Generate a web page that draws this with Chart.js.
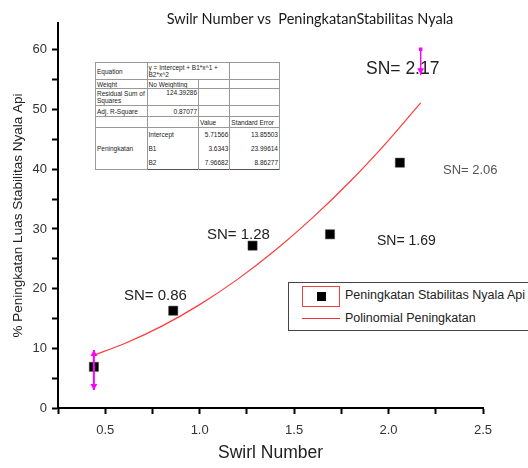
<!DOCTYPE html>
<html>
<head>
<meta charset="utf-8">
<script src="https://cdn.jsdelivr.net/npm/chart.js@4/dist/chart.umd.min.js"></script>
<style>
  html, body { margin: 0; padding: 0; background: #fff; }
  #wrap { position: relative; width: 528px; height: 468px; overflow: hidden; }
  #chart { position: absolute; left: 0; top: 0; }
  table.fit {
    position: absolute; left: 95px; top: 62px; width: 185px; height: 108px;
    border-collapse: collapse; table-layout: fixed; background: #fff;
    font: 6.5px "Liberation Sans", Arial, sans-serif; color: #222; border: 1px solid #555;
  }
  table.fit td { border: 1px solid #999; padding: 0 1px; line-height: 7px; vertical-align: middle; overflow: hidden; }
  table.fit td.r { text-align: right; }
  table.fit tr.g td.nb { border-top: none; border-bottom: none; }
  #legend {
    position: absolute; left: 288px; top: 282px; width: 260px; height: 47px;
    border: 1.5px solid #444; background: #fff;
    font: 12.5px "Liberation Sans", Arial, sans-serif; color: #222;
  }
  #legend .sym { position: absolute; left: 13px; top: 3px; width: 36px; height: 19px; border: 1px solid #f04040; }
  #legend .sq { position: absolute; left: 14px; top: 5px; width: 9px; height: 9px; background: #000; }
  #legend .ln { position: absolute; left: 13px; top: 35px; width: 38px; height: 0; border-top: 1.5px solid #f03030; }
  #legend .t1 { position: absolute; left: 56px; top: 5px; white-space: nowrap; }
  #legend .t2 { position: absolute; left: 56px; top: 28px; white-space: nowrap; }
</style>
</head>
<body>
<div id="wrap">
  <canvas id="chart" width="528" height="468"></canvas>
  <table class="fit">
    <colgroup><col style="width:28%"><col style="width:28%"><col style="width:17%"><col style="width:27%"></colgroup>
    <tr style="height:17px"><td>Equation</td><td colspan="2">y = Intercept + B1*x^1 + B2*x^2</td><td></td></tr>
    <tr style="height:9px"><td>Weight</td><td>No Weighting</td><td></td><td></td></tr>
    <tr style="height:17px"><td>Residual Sum of Squares</td><td class="r" style="vertical-align:top">124.39286</td><td></td><td></td></tr>
    <tr style="height:11px"><td>Adj. R-Square</td><td class="r">0.87077</td><td></td><td></td></tr>
    <tr style="height:10px"><td></td><td></td><td>Value</td><td>Standard Error</td></tr>
    <tr class="g" style="height:14px"><td rowspan="3">Peningkatan</td><td class="nb">Intercept</td><td class="r nb">5.71566</td><td class="r nb">13.85503</td></tr>
    <tr class="g" style="height:14px"><td class="nb">B1</td><td class="r nb">3.6343</td><td class="r nb">23.99614</td></tr>
    <tr class="g" style="height:14px"><td class="nb">B2</td><td class="r nb">7.96682</td><td class="r nb">8.86277</td></tr>
  </table>
  <div id="legend">
    <div class="sym"><div class="sq"></div></div>
    <div class="t1">Peningkatan Stabilitas Nyala Api</div>
    <div class="ln"></div>
    <div class="t2">Polinomial Peningkatan</div>
  </div>
</div>
<script>
// Measured flame-stability increase against swirl number
const swirl = [0.44, 0.86, 1.28, 1.69, 2.06];
const peningkatan = [6.9, 16.3, 27.2, 29.1, 41.1];

// Quadratic fit curve (y = 5.71566 + 3.6343 x + 7.96682 x^2), sampled
const fitSwirl = [0.44, 0.6, 0.8, 1.0, 1.2, 1.4, 1.6, 1.8, 2.0, 2.17];
const fitPeningkatan = [8.86, 10.77, 13.72, 17.32, 21.55, 26.42, 31.93, 38.07, 44.85, 51.12];

// Range markers at both ends of the fit
const markSwirl = [0.44, 2.17];
const markTop = [9.7, 60.1];
const markBottom = [3.0, 55.8];
const markUp = [9.05, 60.1];
const markDown = [3.7, 56.6];

// Axis ticks
const xTickLabels = ['0.5', '1.0', '1.5', '2.0', '2.5'];
const yTickLabels = ['0', '10', '20', '30', '40', '50', '60'];

// Value annotations
const snLabels = ['SN= 0.86', 'SN= 1.28', 'SN= 1.69', 'SN= 2.06', 'SN= 2.17'];

const FONT = '"Liberation Sans", Arial, sans-serif';

const pts = (xs, ys) => xs.map((x, i) => ({ x: x, y: ys[i] }));

const annotations = {
  id: 'annotations',
  afterDraw(chart) {
    const ctx = chart.ctx;
    ctx.save();
    ctx.textBaseline = 'middle';
    ctx.textAlign = 'center';
    ctx.fillStyle = '#1a1a1a';
    ctx.font = '14.5px Lato, "Open Sans", sans-serif';
    ctx.fillText('Swilr Number vs  PeningkatanStabilitas Nyala', 310, 19);

    ctx.textAlign = 'left';
    const spots = [
      { x: 124, y: 296, size: 15, color: '#222' },
      { x: 207, y: 235, size: 15, color: '#222' },
      { x: 377, y: 241, size: 14, color: '#222' },
      { x: 443, y: 170, size: 13, color: '#555' },
      { x: 366, y: 69, size: 17.5, color: '#222' }
    ];
    snLabels.forEach((t, i) => {
      const s = spots[i];
      ctx.font = s.size + 'px ' + FONT;
      ctx.fillStyle = s.color;
      ctx.fillText(t, s.x, s.y);
    });
    ctx.restore();
  }
};

new Chart(document.getElementById('chart'), {
  type: 'scatter',
  data: {
    datasets: [
      {
        data: [{ x: markSwirl[0], y: markTop[0] }, { x: markSwirl[0], y: markBottom[0] }],
        showLine: true, borderColor: '#ff00ff', borderWidth: 2, pointRadius: 0
      },
      {
        data: [{ x: markSwirl[1], y: markTop[1] }, { x: markSwirl[1], y: markBottom[1] }],
        showLine: true, borderColor: '#ff00ff', borderWidth: 1, pointRadius: 0
      },
      {
        data: pts(markSwirl, markUp),
        pointStyle: ['triangle', 'rect'], radius: [4, 2.5], rotation: 0,
        backgroundColor: '#ff00ff', borderColor: '#ff00ff', borderWidth: 0
      },
      {
        data: pts(markSwirl, markDown),
        pointStyle: 'triangle', radius: 4, rotation: 180,
        backgroundColor: '#ff00ff', borderColor: '#ff00ff', borderWidth: 0
      },
      {
        label: 'Peningkatan Stabilitas Nyala Api',
        data: pts(swirl, peningkatan),
        pointStyle: 'rect', radius: 6.5,
        backgroundColor: '#000', borderColor: '#444', borderWidth: 0.5
      },
      {
        label: 'Polinomial Peningkatan',
        data: pts(fitSwirl, fitPeningkatan),
        showLine: true, borderColor: '#ff3b3b', borderWidth: 1.2,
        pointRadius: 0, cubicInterpolationMode: 'monotone'
      }
    ]
  },
  options: {
    responsive: false,
    animation: false,
    events: [],
    layout: { padding: { top: 23, right: 45, left: 0, bottom: 0 } },
    plugins: { legend: { display: false }, tooltip: { enabled: false } },
    scales: {
      x: {
        type: 'linear', min: 0.25, max: 2.5,
        afterFit(s) { s.height = 60; },
        afterBuildTicks(s) {
          s.ticks = [];
          for (let i = 0; i <= 9; i++) s.ticks.push({ value: 0.25 + i * 0.25 });
        },
        border: { display: true, color: '#000', width: 2 },
        grid: { drawOnChartArea: false, drawTicks: true, tickLength: 6, tickColor: '#000', tickWidth: 2 },
        ticks: {
          color: '#333', font: { family: FONT, size: 13 }, padding: 9, maxRotation: 0,
          callback(v) {
            const k = Math.round(v / 0.5) - 1;
            return Math.abs(v / 0.5 - Math.round(v / 0.5)) < 1e-6 && k >= 0 ? xTickLabels[k] : '';
          }
        },
        title: { display: true, text: 'Swirl Number', color: '#222', font: { family: FONT, size: 17.5 }, padding: { top: 4, bottom: 4 } }
      },
      y: {
        type: 'linear', min: 0, max: 64.5,
        afterFit(s) { s.width = 58; },
        afterBuildTicks(s) {
          s.ticks = [];
          for (let i = 0; i <= 12; i++) s.ticks.push({ value: i * 5 });
        },
        border: { display: true, color: '#000', width: 2 },
        grid: { drawOnChartArea: false, drawTicks: true, tickLength: 6, tickColor: '#000', tickWidth: 2 },
        ticks: {
          color: '#333', font: { family: FONT, size: 13 }, padding: 5,
          callback(v) { return v % 10 === 0 ? yTickLabels[v / 10] : ''; }
        },
        title: { display: true, text: '% Peningkatan Luas Stabilitas Nyala Api', color: '#222', font: { family: FONT, size: 13.5 }, padding: { top: 10, bottom: 0 } }
      }
    }
  },
  plugins: [annotations]
});
</script>
</body>
</html>
